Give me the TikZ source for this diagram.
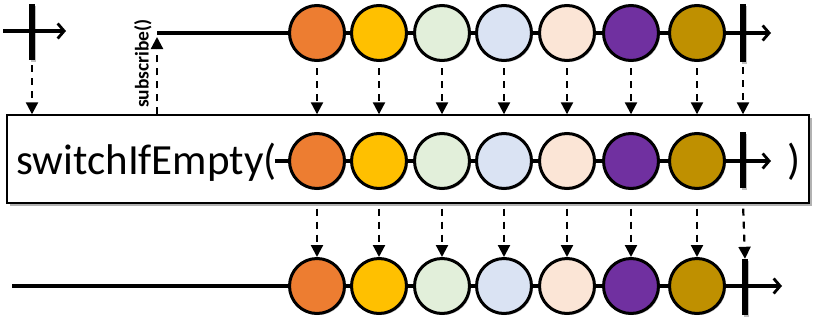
\documentclass[tikz,border=0pt]{standalone}
\usepackage{fontspec}
\setmainfont{Carlito}
\usetikzlibrary{arrows.meta,shadows}
\definecolor{cOrange}{HTML}{ED7D31}
\definecolor{cYellow}{HTML}{FFC000}
\definecolor{cGreen}{HTML}{E2EFDA}
\definecolor{cBlue}{HTML}{DAE3F3}
\definecolor{cPeach}{HTML}{FBE5D6}
\definecolor{cPurple}{HTML}{7030A0}
\definecolor{cGold}{HTML}{BF9000}
\begin{document}
\begin{tikzpicture}[x=1pt,y=-1pt,
  shd/.style={drop shadow={opacity=0.25, shadow xshift=1.5pt, shadow yshift=-1.5pt, fill=black}},
  ball/.style={circle, draw=black, line width=3pt, minimum size=55pt, inner sep=0pt, shd},
  barnode/.style={rectangle, fill=black, minimum width=5.5pt, minimum height=56pt, inner sep=0pt, shd},
  mainline/.style={line width=3.4pt, -{Straight Barb[length=6.5pt, width=15pt, line width=2.8pt]}},
  dasharrow/.style={line width=2.2pt, dash pattern=on 7pt off 6pt, -{Triangle[length=12pt,width=12pt]}},
  opbox/.style={draw=black, line width=1.4pt, fill=white, inner sep=0pt,
    drop shadow={opacity=0.3, shadow xshift=3pt, shadow yshift=-3pt, fill=black}},
]
\useasboundingbox (0,0) rectangle (819,327);

% operator box
\node[opbox, minimum width=802pt, minimum height=88pt] (box) at (408,159) {};
\node[anchor=base west, inner sep=0pt, font=\fontsize{43}{43}\selectfont] (op) at (16,174) {switchIfEmpty(};
\node[anchor=base west, inner sep=0pt, font=\fontsize{43}{43}\selectfont] (cp) at (787,174) {)};

% subscribe text
\node[rotate=90, anchor=base west, inner sep=0pt, font=\bfseries\fontsize{19.5}{19.5}\selectfont] (subtxt) at (148.5,108) {subscribe()};

% coordinates of line ends
\coordinate (ls) at (3,31);
\coordinate (le) at (66,31);
\coordinate (sub) at (157,33);
\coordinate (subtip) at (157,37);
\coordinate (te) at (771,33);
\coordinate (ms) at (275,161);
\coordinate (me) at (771,161);
\coordinate (bs) at (12,286);
\coordinate (be) at (782,286);

% timelines
\draw[mainline] (ls) -- (le);
\draw[mainline] (sub) -- (te);
\draw[mainline] (ms) -- (me);
\draw[mainline] (bs) -- (be);

% marbles
\foreach \x/\c [count=\i] in {317/cOrange,379/cYellow,442/cGreen,504/cBlue,567/cPeach,631/cPurple,697/cGold}{
  \node[ball, fill=\c] (t\i) at (\x,33) {};
  \node[ball, fill=\c] (m\i) at (\x,161) {};
  \node[ball, fill=\c] (b\i) at (\x,286) {};
}

% completion bars
\node[barnode] (e0) at (32,32) {};
\node[barnode, minimum height=58pt] (tbar) at (743,33) {};
\node[barnode] (mbar) at (743,160) {};
\node[barnode] (bbar) at (745,287) {};

% dashed arrows
\foreach \i in {1,...,7}{
  \draw[dasharrow, shorten <=6pt] (t\i.south) -- (t\i.south |- box.north);
  \draw[dasharrow, shorten <=5pt] (m\i |- box.south) -- (b\i.north);
}
\draw[dasharrow, shorten <=5pt] (tbar.south) -- (tbar.south |- box.north);
\draw[dasharrow, shorten <=5pt] (mbar |- box.south) -- (bbar.north);
\draw[dasharrow, shorten <=5pt] (e0.south) -- (e0.south |- box.north);
\draw[dasharrow] (sub |- box.north) -- (subtip);
\end{tikzpicture}
\end{document}
